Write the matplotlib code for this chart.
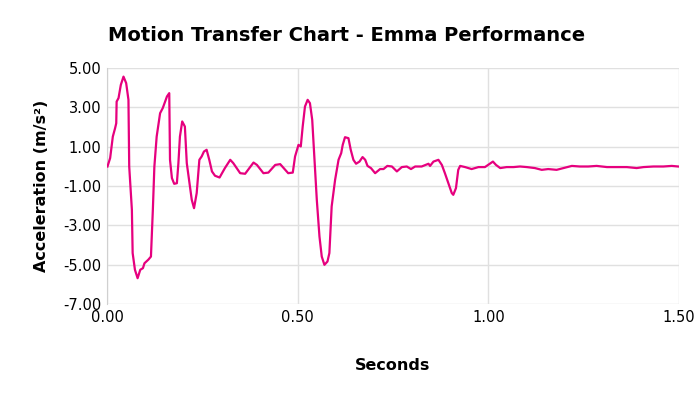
import matplotlib
matplotlib.use("Agg")
import matplotlib.pyplot as plt

# time (s) and acceleration (m/s^2)
seconds = [0.001, 0.008, 0.015, 0.021, 0.024, 0.025, 0.030, 0.036, 0.043, 0.050,
           0.056, 0.058, 0.065, 0.067, 0.073, 0.080, 0.087, 0.094, 0.098, 0.108,
           0.115, 0.120, 0.124, 0.130, 0.139, 0.146, 0.157, 0.163, 0.165, 0.170,
           0.176, 0.183, 0.187, 0.191, 0.197, 0.204, 0.209, 0.216, 0.222, 0.228,
           0.235, 0.242, 0.248, 0.254, 0.261, 0.268, 0.275, 0.283, 0.295, 0.309,
           0.323, 0.331, 0.349, 0.362, 0.384, 0.393, 0.410, 0.423, 0.441, 0.454,
           0.467, 0.475, 0.487, 0.493, 0.502, 0.508, 0.513, 0.519, 0.526, 0.532,
           0.538, 0.544, 0.550, 0.557, 0.563, 0.570, 0.578, 0.583, 0.589, 0.598,
           0.607, 0.614, 0.618, 0.624, 0.633, 0.639, 0.646, 0.653, 0.662, 0.670,
           0.677, 0.683, 0.692, 0.703, 0.716, 0.725, 0.735, 0.747, 0.760, 0.773,
           0.786, 0.797, 0.808, 0.825, 0.843, 0.847, 0.856, 0.869, 0.878, 0.886,
           0.895, 0.904, 0.908, 0.915, 0.921, 0.926, 0.939, 0.956, 0.974, 0.991,
           1.004, 1.012, 1.020, 1.031, 1.048, 1.066, 1.083, 1.101, 1.122, 1.140,
           1.157, 1.179, 1.197, 1.219, 1.240, 1.262, 1.284, 1.311, 1.337, 1.363,
           1.389, 1.407, 1.433, 1.459, 1.481, 1.498]
accel = [0.00, 0.43, 1.52, 1.95, 2.20, 3.30, 3.48, 4.15, 4.57, 4.24,
         3.39, 0.00, -2.20, -4.40, -5.25, -5.68, -5.25, -5.17, -4.92, -4.74,
         -4.58, -2.20, 0.00, 1.52, 2.71, 2.97, 3.56, 3.73, 0.34, -0.59,
         -0.88, -0.85, 0.17, 1.52, 2.29, 2.03, 0.17, -0.85, -1.69, -2.12,
         -1.35, 0.34, 0.51, 0.76, 0.85, 0.34, -0.25, -0.47, -0.56, -0.08,
         0.34, 0.17, -0.34, -0.37, 0.20, 0.08, -0.34, -0.31, 0.08, 0.12,
         -0.17, -0.34, -0.31, 0.51, 1.10, 1.02, 2.03, 3.05, 3.39, 3.22,
         2.37, 0.34, -1.69, -3.56, -4.58, -5.00, -4.83, -4.40, -2.03, -0.68,
         0.34, 0.68, 1.10, 1.49, 1.44, 0.85, 0.34, 0.14, 0.25, 0.48,
         0.34, 0.03, -0.08, -0.34, -0.13, -0.13, 0.03, 0.00, -0.25, -0.03,
         0.00, -0.13, 0.00, 0.00, 0.14, 0.03, 0.25, 0.34, 0.08, -0.34,
         -0.85, -1.35, -1.44, -1.10, -0.17, 0.03, -0.03, -0.13, -0.03, -0.03,
         0.14, 0.25, 0.08, -0.08, -0.03, -0.03, 0.00, -0.03, -0.08, -0.17,
         -0.13, -0.17, -0.08, 0.03, 0.00, 0.00, 0.03, -0.03, -0.03, -0.03,
         -0.08, -0.03, 0.00, 0.00, 0.03, 0.00]

x_ticks = [0.0, 0.5, 1.0, 1.5]
y_ticks = [5, 3, 1, -1, -3, -5, -7]

fig = plt.figure(figsize=(7, 3.94), dpi=100)
ax = fig.add_axes([0.153, 0.228, 0.817, 0.599])

ax.plot(seconds, accel, color="#E6007E", linewidth=1.6, zorder=3)
ax.axhline(0, color="#E0E0E0", linewidth=1, zorder=1)

ax.set_xlim(0, 1.5)
ax.set_ylim(-7, 5)
ax.set_xticks(x_ticks)
ax.set_yticks(y_ticks)
ax.set_xticklabels([f"{v:.2f}" for v in x_ticks])
ax.set_yticklabels([f"{v:.2f}" for v in y_ticks])
ax.tick_params(length=0, labelsize=10.5, colors="#000000", pad=4)
ax.grid(True, color="#E0E0E0", linewidth=1)
ax.set_axisbelow(True)
for side in ["top", "right", "bottom"]:
    ax.spines[side].set_visible(False)
ax.spines["left"].set_color("#D0D0D0")

ax.set_xlabel("Seconds", fontsize=11.5, fontweight="bold", labelpad=24)
ax.set_ylabel("Acceleration (m/s²)", fontsize=11.5, fontweight="bold", labelpad=10)
fig.text(0.495, 0.91, "Motion Transfer Chart - Emma Performance",
         ha="center", va="center", fontsize=14, fontweight="bold")

fig.savefig("out.png", dpi=100)
